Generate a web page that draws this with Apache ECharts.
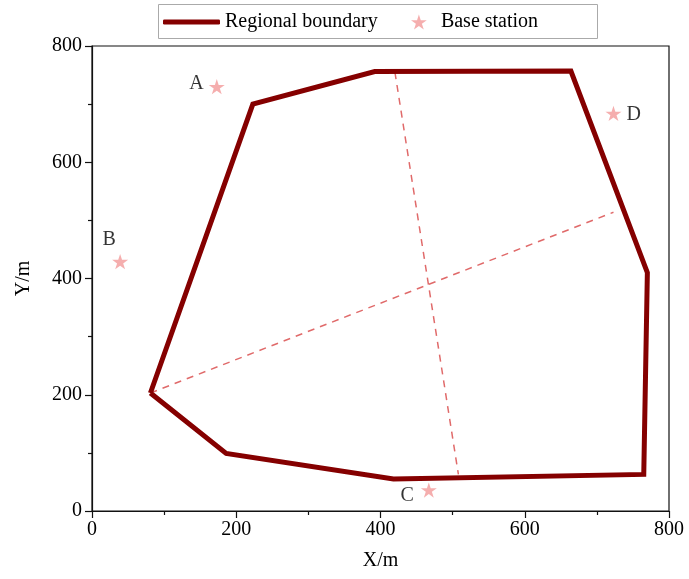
<!DOCTYPE html>
<html>
<head>
<meta charset="utf-8">
<script src="https://cdn.jsdelivr.net/npm/echarts@6/dist/echarts.min.js"></script>
<style>
  html, body { margin: 0; padding: 0; background: #fff; }
  #chart { width: 689px; height: 579px; }
</style>
</head>
<body>
<div id="chart"></div>
<script>
// boundary polygon vertices (closed)
const boundaryX = [81, 223, 392, 664, 770, 765, 418, 186, 81];
const boundaryY = [203, 700, 756, 757, 410, 63, 55, 99, 203];

// two dashed axes across the region
const dashA = [[420, 755], [508, 63]];
const dashB = [[81, 203], [723, 514]];

// base stations
const stationNames = ['A', 'B', 'C', 'D'];
const stationX = [173, 39, 467, 723];
const stationY = [730, 429, 36, 684];

const xTicks = [0, 200, 400, 600, 800];
const yTicks = [0, 200, 400, 600, 800];

const FONT = '"Liberation Serif", "Times New Roman", serif';
const STAR = 'path://M100 0 L122.45 69.1 L195.1 69.1 L136.3 111.8 L158.8 180.9 L100 138.2 L41.2 180.9 L63.7 111.8 L4.9 69.1 L77.55 69.1 Z';
const BOUND_COLOR = '#850000';
const STAR_COLOR = '#f29a9a';
const TEXT = '#000';

// label placement around each star
const labelPos = {
  A: { position: 'left', distance: 5, offset: [0, -3] },
  B: { position: 'top', distance: 4, offset: [-11, 0] },
  C: { position: 'left', distance: 7, offset: [0, 6] },
  D: { position: 'right', distance: 5, offset: [0, 1] }
};

const chart = echarts.init(document.getElementById('chart'));

const axisCommon = {
  type: 'value',
  min: xTicks[0],
  max: xTicks[xTicks.length - 1],
  interval: 200,
  nameLocation: 'middle',
  nameTextStyle: { fontFamily: FONT, fontSize: 20, color: TEXT },
  axisLine: { show: true, onZero: false, lineStyle: { color: '#111', width: 1.2 } },
  axisTick: { show: true, inside: false, length: 7, lineStyle: { color: '#111', width: 1.2 } },
  minorTick: { show: true, splitNumber: 2, length: 4, lineStyle: { color: '#111', width: 1.2 } },
  axisLabel: { fontFamily: FONT, fontSize: 20, color: TEXT },
  splitLine: { show: false }
};

chart.setOption({
  animation: false,
  backgroundColor: '#fff',
  grid: {
    left: 92, right: 20, top: 46, bottom: 68,
    show: true, borderColor: '#111', borderWidth: 1.2
  },
  graphic: [{
    type: 'rect',
    shape: { x: 158.5, y: 4.5, width: 439, height: 34 },
    style: { fill: 'none', stroke: '#aaa', lineWidth: 1 },
    z: 100
  }],
  legend: [
    {
      data: [{ name: 'Regional boundary', icon: 'roundRect' }],
      left: 158, top: 8,
      padding: [4, 5],
      itemWidth: 57, itemHeight: 5,
      textStyle: { fontFamily: FONT, fontSize: 20, color: TEXT }
    },
    {
      data: [{ name: 'Base station', icon: STAR }],
      left: 406, top: 8,
      padding: [4, 5],
      itemWidth: 34, itemHeight: 15,
      textStyle: { fontFamily: FONT, fontSize: 20, color: TEXT }
    }
  ],
  xAxis: Object.assign({}, axisCommon, {
    name: 'X/m', nameGap: 40,
    axisLabel: Object.assign({}, axisCommon.axisLabel, { margin: 9 })
  }),
  yAxis: Object.assign({}, axisCommon, {
    name: 'Y/m', nameGap: 58,
    min: yTicks[0], max: yTicks[yTicks.length - 1],
    axisLabel: Object.assign({}, axisCommon.axisLabel, { margin: 10 })
  }),
  series: [
    {
      name: 'dashA', type: 'line', data: dashA, symbol: 'none',
      lineStyle: { color: '#e06a6a', width: 1.5, type: [7, 6] }, z: 2
    },
    {
      name: 'dashB', type: 'line', data: dashB, symbol: 'none',
      lineStyle: { color: '#e06a6a', width: 1.5, type: [7, 6] }, z: 2
    },
    {
      name: 'Regional boundary', type: 'line',
      data: boundaryX.map((x, i) => [x, boundaryY[i]]),
      symbol: 'none',
      lineStyle: { color: BOUND_COLOR, width: 5, join: 'miter' },
      itemStyle: { color: BOUND_COLOR },
      z: 3
    },
    {
      name: 'Base station', type: 'scatter',
      symbol: STAR, symbolSize: 16, symbolKeepAspect: true,
      itemStyle: { color: STAR_COLOR },
      data: stationNames.map((n, i) => ({
        name: n,
        value: [stationX[i], stationY[i]],
        label: Object.assign({
          show: true, formatter: n,
          fontFamily: FONT, fontSize: 20, color: TEXT
        }, labelPos[n])
      })),
      z: 4
    }
  ]
});
</script>
</body>
</html>
